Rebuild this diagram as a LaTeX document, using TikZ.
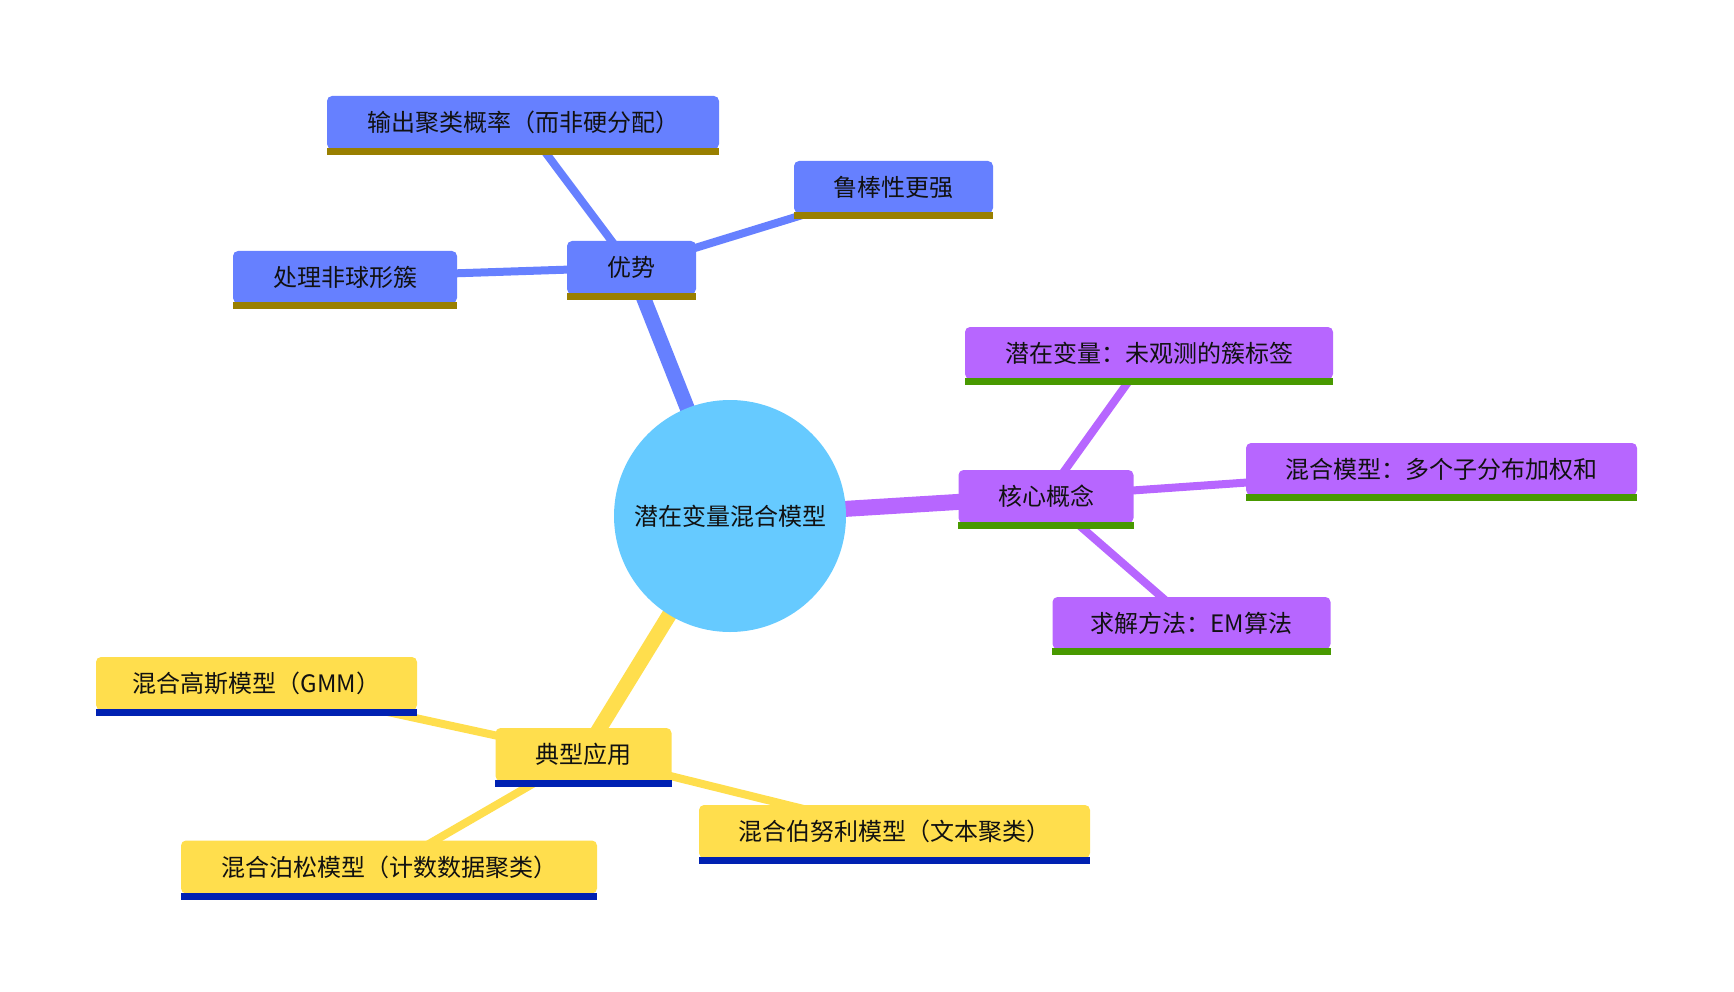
\documentclass[tikz,border=0pt]{standalone}
\usepackage{fontspec}
\setmainfont{Noto Sans CJK SC}
\usetikzlibrary{backgrounds}
\definecolor{cblue}{RGB}{102,128,255}
\definecolor{cblueul}{RGB}{153,127,0}
\definecolor{cpurp}{RGB}{183,102,255}
\definecolor{cpurpul}{RGB}{72,153,0}
\definecolor{cyell}{RGB}{255,222,77}
\definecolor{cyellul}{RGB}{0,33,178}
\definecolor{croot}{RGB}{102,202,255}
\definecolor{ctext}{RGB}{17,17,17}
\tikzset{
  box/.style={rectangle, rounded corners=5pt, inner sep=0pt, text=ctext,
    font=\fontsize{24}{29}\selectfont},
  bluebox/.style={box, fill=cblue},
  purpbox/.style={box, fill=cpurp},
  yellbox/.style={box, fill=cyell},
  rootedge/.style={line width=15pt},
  leafedge/.style={line width=8pt},
}
\newcommand{\ulbox}[2]{\fill[#2] ([yshift=1pt]#1.south west) rectangle ([yshift=-6pt]#1.south east);}
\begin{document}
\begin{tikzpicture}[x=1pt,y=-1pt]
\useasboundingbox (0,0) rectangle (1734,992);
% root
\node[circle, fill=croot, minimum size=232pt, inner sep=0pt, text=ctext,
  font=\fontsize{24}{29}\selectfont] (root) at (730,516) {潜在变量混合模型};
% blue branch
\node[bluebox, minimum width=129pt, minimum height=53pt] (adv) at (631.5,267.5) {优势};
\node[bluebox, minimum width=392pt, minimum height=53pt] (prob) at (523,122.5) {输出聚类概率（而非硬分配）};
\node[bluebox, minimum width=199pt, minimum height=52pt] (robust) at (893.5,187) {鲁棒性更强};
\node[bluebox, minimum width=224pt, minimum height=52pt] (nonsph) at (345,277) {处理非球形簇};
% purple branch
\node[purpbox, minimum width=175pt, minimum height=53pt] (core) at (1046,496.5) {核心概念};
\node[purpbox, minimum width=368pt, minimum height=52pt] (latent) at (1149,353) {潜在变量：未观测的簇标签};
\node[purpbox, minimum width=391pt, minimum height=52pt] (mix) at (1441.5,469) {混合模型：多个子分布加权和};
\node[purpbox, minimum width=278pt, minimum height=52pt] (em) at (1191.5,623) {求解方法：EM算法};
% yellow branch
\node[yellbox, minimum width=176pt, minimum height=53pt] (app) at (583.5,754.5) {典型应用};
\node[yellbox, minimum width=321pt, minimum height=53pt] (gmm) at (256.5,683.5) {混合高斯模型（GMM）};
\node[yellbox, minimum width=416pt, minimum height=53pt] (pois) at (389,867) {混合泊松模型（计数数据聚类）};
\node[yellbox, minimum width=391pt, minimum height=53pt] (bern) at (894.5,831.5) {混合伯努利模型（文本聚类）};
% underlines
\ulbox{adv}{cblueul}\ulbox{prob}{cblueul}\ulbox{robust}{cblueul}\ulbox{nonsph}{cblueul}
\ulbox{core}{cpurpul}\ulbox{latent}{cpurpul}\ulbox{mix}{cpurpul}\ulbox{em}{cpurpul}
\ulbox{app}{cyellul}\ulbox{gmm}{cyellul}\ulbox{pois}{cyellul}\ulbox{bern}{cyellul}
% edges
\begin{pgfonlayer}{background}
\draw[rootedge, cblue] (root.center) -- (adv.center);
\draw[rootedge, cpurp, line width=16pt] (root.center) -- (core.center);
\draw[rootedge, cyell] (root.center) -- (app.center);
\draw[leafedge, cblue] (adv.center) -- (prob.center);
\draw[leafedge, cblue] (adv.center) -- (robust.center);
\draw[leafedge, cblue] (adv.center) -- (nonsph.center);
\draw[leafedge, cpurp] (core.center) -- (latent.center);
\draw[leafedge, cpurp] (core.center) -- (mix.center);
\draw[leafedge, cpurp] (core.center) -- (em.center);
\draw[leafedge, cyell] (app.center) -- (gmm.center);
\draw[leafedge, cyell] (app.center) -- (pois.center);
\draw[leafedge, cyell] (app.center) -- (bern.center);
\end{pgfonlayer}
\end{tikzpicture}
\end{document}
